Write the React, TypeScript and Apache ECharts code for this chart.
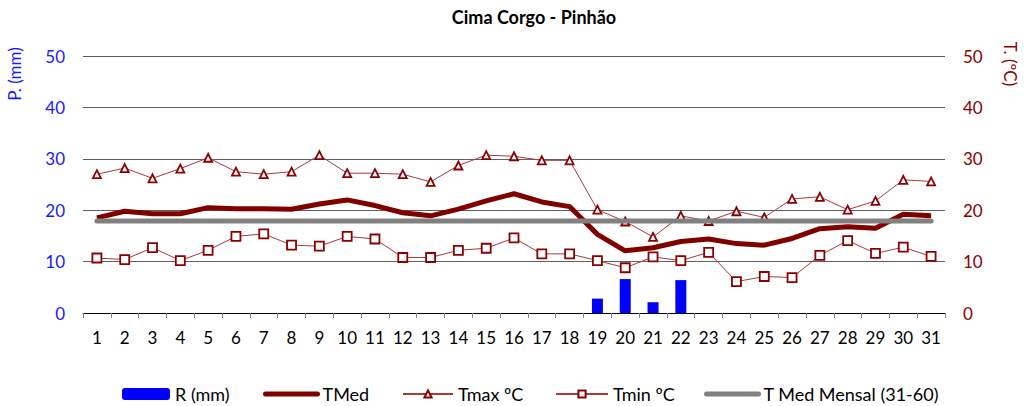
import React, { useEffect, useRef } from "react";
import * as echarts from "echarts";

const days = Array.from({ length: 31 }, (_, i) => String(i + 1));
const rain = [null, null, null, null, null, null, null, null, null, null, null, null, null, null, null, null, null, null, 2.8, 6.6, 2.1, 6.4, null, null, null, null, null, null, null, null, null];
const tMed = [18.5, 19.8, 19.3, 19.3, 20.5, 20.3, 20.3, 20.2, 21.2, 22.0, 20.9, 19.5, 18.9, 20.2, 21.8, 23.2, 21.6, 20.7, 15.3, 12.1, 12.7, 13.9, 14.4, 13.5, 13.2, 14.5, 16.4, 16.8, 16.5, 19.2, 18.9];
const tMax = [27.0, 28.2, 26.2, 28.1, 30.2, 27.5, 27.0, 27.5, 30.7, 27.2, 27.2, 27.0, 25.5, 28.7, 30.7, 30.5, 29.7, 29.7, 20.1, 17.8, 14.8, 18.9, 17.9, 19.8, 18.6, 22.2, 22.6, 20.1, 21.8, 25.9, 25.6];
const tMin = [10.7, 10.4, 12.7, 10.2, 12.2, 14.9, 15.4, 13.2, 13.0, 14.9, 14.4, 10.8, 10.8, 12.2, 12.6, 14.6, 11.5, 11.5, 10.2, 8.8, 10.9, 10.2, 11.8, 6.1, 7.1, 6.9, 11.2, 14.1, 11.6, 12.8, 11.0];
const tMedMensal = [17.9, 17.9, 17.9, 17.9, 17.9, 17.9, 17.9, 17.9, 17.9, 17.9, 17.9, 17.9, 17.9, 17.9, 17.9, 17.9, 17.9, 17.9, 17.9, 17.9, 17.9, 17.9, 17.9, 17.9, 17.9, 17.9, 17.9, 17.9, 17.9, 17.9, 17.9];
const axisTicks = [0, 10, 20, 30, 40, 50];
const seriesNames = ["R (mm)", "TMed", "Tmax ºC", "Tmin ºC", "T Med Mensal (31-60)"];

const FONT = "Lato, 'Open Sans', sans-serif";

export default function App() {
  const ref = useRef<HTMLDivElement>(null);
  useEffect(() => {
    document.body.style.margin = "0";
    const chart = echarts.init(ref.current!, null, { renderer: "svg" });
    const legendText = { fontFamily: FONT, fontSize: 18, color: "#000" };
    const legendTop = 385;
    chart.setOption({
      animation: false,
      textStyle: { fontFamily: FONT },
      title: {
        text: "Cima Corgo - Pinhão",
        left: 529,
        top: 3,
        textAlign: "center",
        textStyle: { fontFamily: FONT, fontSize: 18, fontWeight: "bold", color: "#000" },
      },
      graphic: [
        {
          type: "text",
          x: 14,
          y: 74,
          rotation: Math.PI / 2,
          style: { text: "P. (mm)", fill: "#1a1aff", font: `17px ${FONT}`, align: "center", verticalAlign: "middle" },
        },
        {
          type: "text",
          x: 1010,
          y: 64,
          rotation: -Math.PI / 2,
          style: { text: "T. (ºC)", fill: "#8b0000", font: `17px ${FONT}`, align: "center", verticalAlign: "middle" },
        },
      ],
      legend: [
        {
          left: 122, top: legendTop, itemWidth: 48, itemHeight: 12, padding: 0,
          textStyle: legendText, data: [seriesNames[0]],
        },
        {
          left: 263, top: legendTop, itemWidth: 52, itemHeight: 12, padding: 0,
          textStyle: legendText,
          data: [{ name: seriesNames[1], itemStyle: { opacity: 0 }, lineStyle: { width: 5, cap: "round", color: "#800000" } }],
        },
        {
          left: 402, top: legendTop, itemWidth: 50, itemHeight: 9, padding: 0,
          textStyle: legendText, data: [seriesNames[2]],
        },
        {
          left: 555, top: legendTop, itemWidth: 52, itemHeight: 9, padding: 0,
          textStyle: legendText, data: [seriesNames[3]],
        },
        {
          left: 704, top: legendTop, itemWidth: 52, itemHeight: 12, padding: 0,
          textStyle: legendText,
          data: [{ name: seriesNames[4], itemStyle: { opacity: 0 }, lineStyle: { width: 5, cap: "round", color: "#808080" } }],
        },
      ],
      grid: { left: 83, right: 81, top: 56, bottom: 93 },
      xAxis: {
        type: "category",
        data: days,
        boundaryGap: true,
        axisLine: { lineStyle: { color: "#000", width: 1 } },
        axisTick: { show: true, length: 5, lineStyle: { color: "#888" } },
        axisLabel: { fontFamily: FONT, fontSize: 17, color: "#000", margin: 16 },
      },
      yAxis: [
        {
          type: "value",
          min: axisTicks[0],
          max: axisTicks[axisTicks.length - 1],
          interval: 10,
          axisLine: { show: false },
          axisTick: { show: false },
          splitLine: { lineStyle: { color: "#606060", width: 1 } },
          axisLabel: { fontFamily: FONT, fontSize: 17, color: "#1a1aff", margin: 18 },
        },
        {
          type: "value",
          min: axisTicks[0],
          max: axisTicks[axisTicks.length - 1],
          interval: 10,
          axisLine: { show: false },
          axisTick: { show: false },
          splitLine: { show: false },
          axisLabel: { fontFamily: FONT, fontSize: 17, color: "#8b0000", margin: 18 },
        },
      ],
      series: [
        {
          name: seriesNames[0],
          type: "bar",
          data: rain,
          yAxisIndex: 0,
          barWidth: 11,
          itemStyle: { color: "#0000ff" },
          z: 1,
        },
        {
          name: seriesNames[2],
          type: "line",
          data: tMax,
          yAxisIndex: 1,
          symbol: "triangle",
          symbolSize: 8,
          showAllSymbol: true,
          lineStyle: { color: "#a83a3a", width: 1 },
          itemStyle: { color: "#fff", borderColor: "#8b0000", borderWidth: 1.8 },
          z: 3,
        },
        {
          name: seriesNames[3],
          type: "line",
          data: tMin,
          yAxisIndex: 1,
          symbol: "rect",
          symbolSize: 9,
          showAllSymbol: true,
          lineStyle: { color: "#a83a3a", width: 1 },
          itemStyle: { color: "#fff", borderColor: "#8b0000", borderWidth: 1.8 },
          z: 3,
        },
        {
          name: seriesNames[1],
          type: "line",
          data: tMed,
          yAxisIndex: 1,
          symbol: "none",
          lineStyle: { color: "#800000", width: 5 },
          itemStyle: { color: "#800000" },
          z: 4,
        },
        {
          name: seriesNames[4],
          type: "line",
          data: tMedMensal,
          yAxisIndex: 1,
          symbol: "none",
          lineStyle: { color: "#808080", width: 5, cap: "round" },
          itemStyle: { color: "#808080" },
          z: 5,
        },
      ],
    });
    return () => chart.dispose();
  }, []);
  return <div ref={ref} style={{ width: 1026, height: 406 }} />;
}
